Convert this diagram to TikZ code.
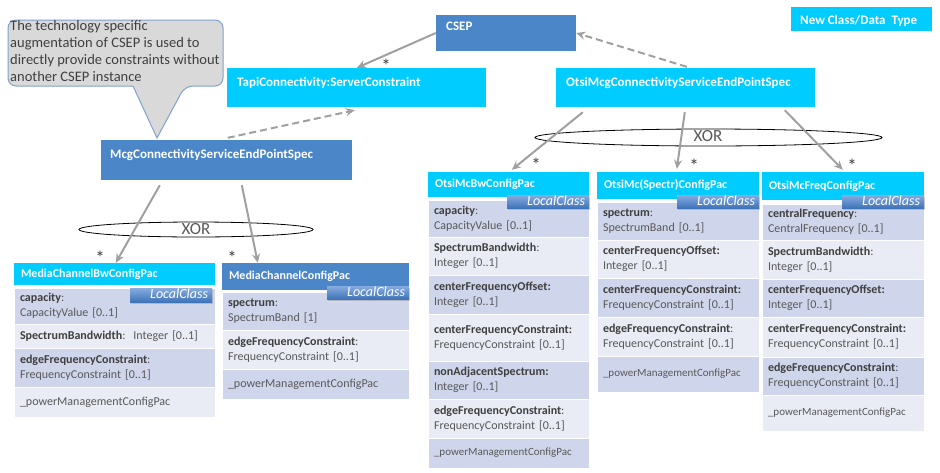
\documentclass[tikz,border=0pt]{standalone}
\usepackage{fontspec}
\setmainfont{Carlito}
\usetikzlibrary{arrows.meta,shadows}

\definecolor{cyanbox}{HTML}{00CCFF}
\definecolor{bluebox}{HTML}{4A86C8}
\definecolor{rowdark}{HTML}{CFD5EA}
\definecolor{rowlight}{HTML}{E9EBF5}
\definecolor{linkgray}{HTML}{A0A0A0}
\definecolor{txtdark}{HTML}{3F3F3F}
\definecolor{txtgray}{HTML}{595959}
\definecolor{notefill}{HTML}{D9D9D9}
\definecolor{noteline}{HTML}{7EA1D0}
\definecolor{tagtop}{HTML}{86ACE0}
\definecolor{tagbot}{HTML}{3F74B8}

\tikzset{
  headbox/.style={inner xsep=7pt, inner ysep=0pt, align=left, text=white,
    font=\fontsize{12}{14}\selectfont\bfseries},
  topbox/.style={inner sep=0pt},
  toplabel/.style={anchor=base west, inner sep=0pt, text=white,
    font=\fontsize{13}{15}\selectfont\bfseries},
  rowbox/.style={draw=white, line width=1pt, inner xsep=6pt, inner ysep=0pt,
    align=left, text=txtgray, font=\fontsize{12}{15}\selectfont},
  tagbox/.style={inner xsep=4pt, inner ysep=0pt, align=right, text=white,
    top color=tagtop, bottom color=tagbot,
    drop shadow={opacity=0.35, shadow xshift=1pt, shadow yshift=-1.5pt},
    font=\fontsize{14}{14}\selectfont\itshape, text height=9pt, text depth=2pt},
  assoc/.style={draw=linkgray, line width=2pt,
    -{Stealth[length=9pt,width=8pt]}},
  derive/.style={assoc, dash pattern=on 7pt off 4pt},
  mult/.style={text=txtdark, font=\fontsize{19}{19}\selectfont, inner sep=0pt},
  xorring/.style={draw=black, line width=0.8pt},
  xorlabel/.style={text=txtgray, font=\fontsize{17}{17}\selectfont, inner sep=0pt},
}

% name, fill, x1, y1, x2, y2, text
\newcommand\umlhead[7]{%
  \pgfmathsetmacro\uw{#5-#3}\pgfmathsetmacro\uh{#6-#4}\pgfmathsetmacro\utw{#5-#3-14}%
  \node[headbox, fill=#2, minimum width=\uw pt, minimum height=\uh pt,
    text width=\utw pt] (#1) at ({(#3+#5)/2},{(#4+#6)/2}) {#7};}
% name, fill, x1, y1, x2, y2, text
\newcommand\umlrow[7]{%
  \pgfmathsetmacro\uw{#5-#3}\pgfmathsetmacro\uh{#6-#4}\pgfmathsetmacro\utw{#5-#3-12}%
  \node[rowbox, fill=#2, minimum width=\uw pt, minimum height=\uh pt,
    text width=\utw pt] (#1) at ({(#3+#5)/2},{(#4+#6)/2}) {#7};}
% name, x1, y1, x2, y2
\newcommand\umltag[5]{%
  \pgfmathsetmacro\uw{#4-#2}\pgfmathsetmacro\uh{#5-#3}\pgfmathsetmacro\utw{#4-#2-8}%
  \node[tagbox, minimum width=\uw pt, minimum height=\uh pt,
    text width=\utw pt] (#1) at ({(#2+#4)/2},{(#3+#5)/2}) {LocalClass};}
% name, x1, y1, x2, y2, fill
\newcommand\plainbox[6]{%
  \pgfmathsetmacro\uw{#4-#2}\pgfmathsetmacro\uh{#5-#3}%
  \node[topbox, fill=#6, minimum width=\uw pt, minimum height=\uh pt]
    (#1) at ({(#2+#4)/2},{(#3+#5)/2}) {};}

\newcommand\an[1]{\textbf{\color{txtdark}#1}}

\begin{document}
\begin{tikzpicture}[x=1pt, y=-1pt]
\useasboundingbox[fill=white] (0,0) rectangle (940,472);

% ---- callout note ----
\draw[fill=notefill, draw=noteline, line width=1pt]
  (8,55) [rounded corners=8pt] -- (8,20) -- (223,20) -- (223,86) -- (185,86)
  [sharp corners] -- (157,138) -- (133,86) [rounded corners=8pt] -- (8,86) -- cycle;
\node[anchor=north west, inner sep=0pt, align=left, text=txtdark,
  font=\fontsize{14.5}{17}\selectfont] (note) at (10,20)
  {The technology specific\\augmentation of CSEP is used to\\directly provide constraints without\\another CSEP instance};

% ---- top level classes ----
\plainbox{csep}{436}{15}{576}{51}{bluebox}
\node[toplabel] (csep-l) at (446,30) {CSEP};
\plainbox{tapi}{227}{68}{486}{107}{cyanbox}
\node[toplabel] (tapi-l) at (237,86) {TapiConnectivity:ServerConstraint};
\plainbox{omcg}{556}{68}{815}{107}{cyanbox}
\node[toplabel] (omcg-l) at (566,86) {OtsiMcgConnectivityServiceEndPointSpec};
\plainbox{mcg}{101}{140}{352}{180}{bluebox}
\node[toplabel] (mcg-l) at (110,158) {McgConnectivityServiceEndPointSpec};
\plainbox{legend}{791}{7}{932}{31}{cyanbox}
\node[toplabel] (legend-l) at (800,24) {New Class/Data~ Type};

% ---- MediaChannelBwConfigPac ----
\umlhead{mcbw}{cyanbox}{14}{263}{215}{285}{MediaChannelBwConfigPac}
\umlrow{mcbw1}{rowdark}{14}{288}{215}{324}{\an{capacity}:\\CapacityValue [0..1]}
\umlrow{mcbw2}{rowlight}{14}{324}{215}{348}{\an{SpectrumBandwidth}:~~Integer [0..1]}
\umlrow{mcbw3}{rowdark}{14}{348}{215}{387}{\an{edgeFrequencyConstraint}:\\FrequencyConstraint [0..1]}
\umlrow{mcbw4}{rowlight}{14}{387}{215}{417}{\_powerManagementConfigPac}
\umltag{mcbw-t}{130}{288}{212}{302}

% ---- MediaChannelConfigPac ----
\umlhead{mccf}{bluebox}{222}{263}{409}{290}{MediaChannelConfigPac}
\umlrow{mccf1}{rowdark}{222}{292}{409}{330}{\an{spectrum}:\\SpectrumBand [1]}
\umlrow{mccf2}{rowlight}{222}{330}{409}{369}{\an{edgeFrequencyConstraint}:\\FrequencyConstraint [0..1]}
\umlrow{mccf3}{rowdark}{222}{369}{409}{399}{\_powerManagementConfigPac}
\umltag{mccf-t}{327}{286}{409}{299}

% ---- OtsiMcBwConfigPac ----
\umlhead{obw}{cyanbox}{428}{172}{589}{197}{OtsiMcBwConfigPac}
\umlrow{obw1}{rowdark}{428}{200}{589}{237}{\an{capacity}:\\CapacityValue [0..1]}
\umlrow{obw2}{rowlight}{428}{237}{589}{275}{\an{SpectrumBandwidth}:\\Integer [0..1]}
\umlrow{obw3}{rowdark}{428}{275}{589}{314}{\an{centerFrequencyOffset:}\\Integer [0..1]}
\umlrow{obw4}{rowlight}{428}{314}{589}{361}{\an{centerFrequencyConstraint:}\\FrequencyConstraint [0..1]\\[4pt]}
\umlrow{obw5}{rowdark}{428}{361}{589}{399}{\an{nonAdjacentSpectrum:}\\Integer [0..1]}
\umlrow{obw6}{rowlight}{428}{399}{589}{438}{\an{edgeFrequencyConstraint}:\\FrequencyConstraint [0..1]}
\umlrow{obw7}{rowdark}{428}{438}{589}{468}{{\fontsize{11}{13}\selectfont\_powerManagementConfigPac}\\[3pt]}
\umltag{obw-t}{507}{195}{589}{208}

% ---- OtsiMc(Spectr)ConfigPac ----
\umlhead{osp}{cyanbox}{597}{172}{759}{199}{OtsiMc(Spectr)ConfigPac}
\umlrow{osp1}{rowdark}{597}{202}{759}{240}{\an{spectrum}:\\SpectrumBand [0..1]}
\umlrow{osp2}{rowlight}{597}{240}{759}{278}{\an{centerFrequencyOffset:}\\Integer [0..1]}
\umlrow{osp3}{rowdark}{597}{278}{759}{317}{\an{centerFrequencyConstraint:}\\FrequencyConstraint [0..1]}
\umlrow{osp4}{rowlight}{597}{317}{759}{356}{\an{edgeFrequencyConstraint}:\\FrequencyConstraint [0..1]}
\umlrow{osp5}{rowdark}{597}{356}{759}{392}{{\fontsize{11}{13}\selectfont\_powerManagementConfigPac}\\[6pt]}
\umltag{osp-t}{677}{195}{759}{208}

% ---- OtsiMcFreqConfigPac ----
\umlhead{ofq}{cyanbox}{762}{172}{924}{200}{OtsiMcFreqConfigPac}
\umlrow{ofq1}{rowdark}{762}{204}{924}{240}{\an{centralFrequency}:\\CentralFrequency [0..1]}
\umlrow{ofq2}{rowlight}{762}{240}{924}{279}{\an{SpectrumBandwidth}:\\Integer [0..1]}
\umlrow{ofq3}{rowdark}{762}{279}{924}{317}{\an{centerFrequencyOffset:}\\Integer [0..1]}
\umlrow{ofq4}{rowlight}{762}{317}{924}{357}{\an{centerFrequencyConstraint:}\\FrequencyConstraint [0..1]}
\umlrow{ofq5}{rowdark}{762}{357}{924}{395}{\an{edgeFrequencyConstraint}:\\FrequencyConstraint [0..1]}
\umlrow{ofq6}{rowlight}{762}{395}{924}{431}{{\fontsize{11}{13}\selectfont\_powerManagementConfigPac}\\[6pt]}
\umltag{ofq-t}{842}{195}{924}{208}

% ---- XOR constraints ----
\draw[xorring] (196,229.5) ellipse [x radius=117, y radius=7.5];
\node[xorlabel] (xor-l) at (196,229) {XOR};
\draw[xorring] (708.5,137.5) ellipse [x radius=173.5, y radius=8.5];
\node[xorlabel] (xor-r) at (708,136) {XOR};

% ---- connectors ----
\draw[assoc] (csep.west) -- ([xshift=130pt]tapi.north west);
\draw[derive] ([shift={(127,-2)}]mcg.north west) -- ([shift={(128,3)}]tapi.south west);
\draw[derive] ([shift={(131,-1)}]omcg.north west) -- (csep.east);

\draw[assoc] ([shift={(59,5)}]mcg.south west) -- ([xshift=102pt]mcbw.north west);
\draw[assoc] ([shift={(141,5)}]mcg.south west) -- ([xshift=36pt]mccf.north west);

\draw[assoc] ([shift={(27,5)}]omcg.south west) -- ([shift={(84,-2)}]obw.north west);
\draw[assoc] ([shift={(129,5)}]omcg.south west) -- ([shift={(80,-3)}]osp.north west);
\draw[assoc] ([shift={(229,3)}]omcg.south west) -- ([shift={(81,-2)}]ofq.north west);

% ---- multiplicities ----
\node[mult] (m0) at (386,66) {*};
\node[mult] (m1) at (100,258) {*};
\node[mult] (m2) at (232,258) {*};
\node[mult] (m3) at (536,165) {*};
\node[mult] (m4) at (694,166) {*};
\node[mult] (m5) at (852,166) {*};
\end{tikzpicture}
\end{document}
